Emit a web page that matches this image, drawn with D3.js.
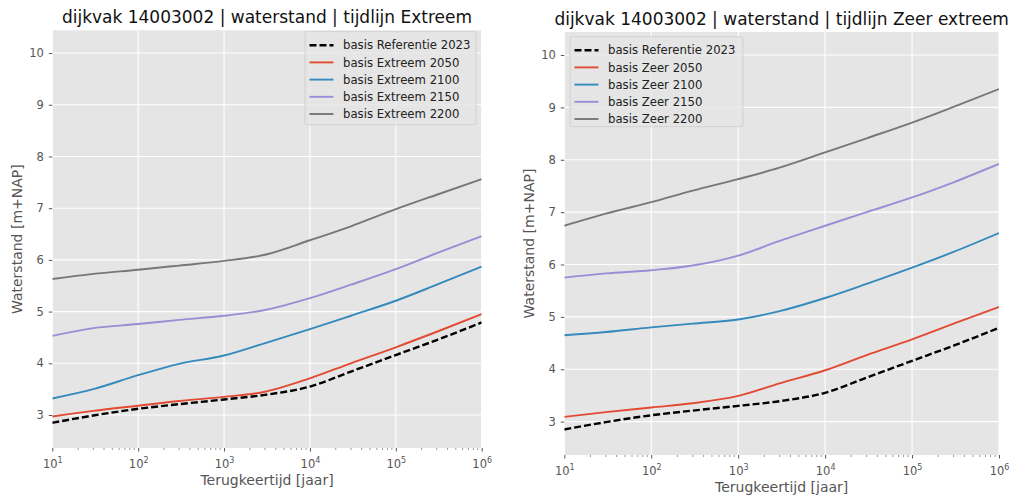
<!DOCTYPE html>
<html>
<head>
<meta charset="utf-8">
<script src="https://cdn.jsdelivr.net/npm/d3@7"></script>
<style>
  html, body { margin: 0; padding: 0; background: #ffffff; }
  svg { display: block; font-family: "DejaVu Sans", sans-serif; }
</style>
</head>
<body>
<svg id="chart" width="1014" height="499"></svg>
<script>
// Return periods (years) at which the water levels are given
const returnPeriods = [10, 30, 100, 300, 1000, 3000, 10000, 30000, 100000, 300000, 1000000];

// Reference situation 2023 (shared by both panels)
const referentie2023 = [2.85, 2.99, 3.12, 3.21, 3.30, 3.39, 3.55, 3.84, 4.16, 4.45, 4.79];

// Timeline "Extreem"
const extreem2050 = [2.97, 3.08, 3.18, 3.27, 3.35, 3.45, 3.71, 4.00, 4.31, 4.61, 4.95];
const extreem2100 = [3.32, 3.50, 3.77, 3.99, 4.15, 4.39, 4.66, 4.92, 5.21, 5.52, 5.87];
const extreem2150 = [4.53, 4.68, 4.76, 4.84, 4.92, 5.03, 5.26, 5.52, 5.82, 6.13, 6.46];
const extreem2200 = [5.63, 5.73, 5.81, 5.89, 5.98, 6.10, 6.38, 6.65, 6.98, 7.26, 7.56];

// Timeline "Zeer extreem"
const zeer2050 = [3.09, 3.18, 3.27, 3.35, 3.49, 3.73, 3.98, 4.27, 4.57, 4.87, 5.19];
const zeer2100 = [4.65, 4.71, 4.80, 4.87, 4.95, 5.11, 5.36, 5.63, 5.94, 6.24, 6.60];
const zeer2150 = [5.75, 5.83, 5.89, 5.98, 6.17, 6.45, 6.74, 7.00, 7.28, 7.57, 7.92];
const zeer2200 = [6.74, 6.97, 7.19, 7.41, 7.63, 7.85, 8.14, 8.41, 8.71, 9.01, 9.35];

const yTicks = [3, 4, 5, 6, 7, 8, 9, 10];
const xTickExponents = [1, 2, 3, 4, 5, 6];

const panels = [
  {
    title: "dijkvak 14003002 | waterstand | tijdlijn Extreem",
    box: { left: 52.3, right: 481.7, top: 30.3, bottom: 448 },
    legend: { x: 305, y: 31.7, w: 171, h: 93 },
    series: [
      { name: "basis Referentie 2023", values: referentie2023, color: "#000000", dashed: true },
      { name: "basis Extreem 2050", values: extreem2050, color: "#E24A33" },
      { name: "basis Extreem 2100", values: extreem2100, color: "#348ABD" },
      { name: "basis Extreem 2150", values: extreem2150, color: "#988ED5" },
      { name: "basis Extreem 2200", values: extreem2200, color: "#777777" }
    ]
  },
  {
    title: "dijkvak 14003002 | waterstand | tijdlijn Zeer extreem",
    box: { left: 564.3, right: 999, top: 32, bottom: 455 },
    legend: { x: 570, y: 36.7, w: 173, h: 90 },
    series: [
      { name: "basis Referentie 2023", values: referentie2023, color: "#000000", dashed: true },
      { name: "basis Zeer 2050", values: zeer2050, color: "#E24A33" },
      { name: "basis Zeer 2100", values: zeer2100, color: "#348ABD" },
      { name: "basis Zeer 2150", values: zeer2150, color: "#988ED5" },
      { name: "basis Zeer 2200", values: zeer2200, color: "#777777" }
    ]
  }
];

const svg = d3.select("#chart");
const yDomain = [2.362, 10.44];

panels.forEach(p => {
  const b = p.box;
  const x = d3.scaleLog().domain([10, 1e6]).range([b.left, b.right]);
  const y = d3.scaleLinear().domain(yDomain).range([b.bottom, b.top]);
  const g = svg.append("g");

  // plot background
  g.append("rect")
    .attr("x", b.left).attr("y", b.top)
    .attr("width", b.right - b.left).attr("height", b.bottom - b.top)
    .attr("fill", "#E5E5E5");

  // grid
  g.append("g").selectAll("line").data(yTicks).join("line")
    .attr("x1", b.left).attr("x2", b.right)
    .attr("y1", d => y(d)).attr("y2", d => y(d))
    .attr("stroke", "#ffffff").attr("stroke-width", 1.1);
  g.append("g").selectAll("line").data(xTickExponents).join("line")
    .attr("x1", d => x(Math.pow(10, d))).attr("x2", d => x(Math.pow(10, d)))
    .attr("y1", b.top).attr("y2", b.bottom)
    .attr("stroke", "#ffffff").attr("stroke-width", 1.1);

  // y axis
  const yAxis = d3.axisLeft(y).tickValues(yTicks).tickSize(3.5).tickPadding(5)
    .tickFormat(d3.format("d"));
  const ya = g.append("g").attr("transform", `translate(${b.left},0)`).call(yAxis);
  ya.select(".domain").remove();
  ya.selectAll(".tick line").attr("stroke", "#555555");
  ya.selectAll(".tick text").attr("fill", "#555555")
    .style("font-size", "11.5px").style("font-family", "DejaVu Sans");

  // x axis: major ticks with superscript labels
  const xAxis = d3.axisBottom(x)
    .tickValues(xTickExponents.map(e => Math.pow(10, e)))
    .tickSize(3.5).tickPadding(4).tickFormat("");
  const xa = g.append("g").attr("transform", `translate(0,${b.bottom})`).call(xAxis);
  xa.select(".domain").remove();
  xa.selectAll(".tick line").attr("stroke", "#555555");
  xa.selectAll(".tick").each(function(d) {
    const t = d3.select(this).append("text")
      .attr("y", 20).attr("fill", "#555555")
      .attr("text-anchor", "middle")
      .style("font-size", "11.5px").style("font-family", "DejaVu Sans");
    t.append("tspan").text("10");
    t.append("tspan").attr("dy", -5).style("font-size", "8px")
      .text(String(Math.round(Math.log10(d))));
  });

  // x axis: minor ticks
  const minor = [];
  for (let e = 1; e < 6; e++) for (let m = 2; m <= 9; m++) minor.push(m * Math.pow(10, e));
  g.append("g").selectAll("line").data(minor).join("line")
    .attr("x1", d => x(d)).attr("x2", d => x(d))
    .attr("y1", b.bottom).attr("y2", b.bottom + 2)
    .attr("stroke", "#555555").attr("stroke-width", 0.6);

  // axis titles
  const cx = (b.left + b.right) / 2;
  g.append("text").attr("x", cx).attr("y", b.bottom + 37)
    .attr("text-anchor", "middle").attr("fill", "#555555")
    .style("font-size", "14px").text("Terugkeertijd [jaar]");
  const cy = (b.top + b.bottom) / 2;
  g.append("text")
    .attr("transform", `translate(${b.left - 30},${cy}) rotate(-90)`)
    .attr("text-anchor", "middle").attr("fill", "#555555")
    .style("font-size", "14px").text("Waterstand [m+NAP]");

  // title
  g.append("text").attr("x", cx).attr("y", b.top - 7)
    .attr("text-anchor", "middle").attr("fill", "#111111")
    .style("font-size", "17px").text(p.title);

  // lines
  const line = d3.line()
    .x((d, i) => x(returnPeriods[i]))
    .y(d => y(d))
    .curve(d3.curveMonotoneX);
  const clipId = "clip" + Math.round(b.left);
  svg.append("clipPath").attr("id", clipId).append("rect")
    .attr("x", b.left).attr("y", b.top)
    .attr("width", b.right - b.left).attr("height", b.bottom - b.top);
  const lg = g.append("g").attr("clip-path", `url(#${clipId})`);
  p.series.forEach(s => {
    lg.append("path").datum(s.values)
      .attr("d", line)
      .attr("fill", "none")
      .attr("stroke", s.color)
      .attr("stroke-width", s.dashed ? 2.4 : 1.9)
      .attr("stroke-dasharray", s.dashed ? "7,3" : null);
  });

  // legend
  const L = p.legend;
  const leg = g.append("g");
  leg.append("rect")
    .attr("x", L.x).attr("y", L.y).attr("width", L.w).attr("height", L.h)
    .attr("rx", 2).attr("ry", 2)
    .attr("fill", "#E5E5E5").attr("fill-opacity", 0.8)
    .attr("stroke", "#cccccc").attr("stroke-width", 0.8);
  p.series.forEach((s, i) => {
    const ry = L.y + 13.5 + i * 17.2;
    leg.append("line")
      .attr("x1", L.x + 4.5).attr("x2", L.x + 28.5)
      .attr("y1", ry).attr("y2", ry)
      .attr("stroke", s.color)
      .attr("stroke-width", s.dashed ? 2.4 : 1.9)
      .attr("stroke-dasharray", s.dashed ? "7,3" : null);
    leg.append("text")
      .attr("x", L.x + 38).attr("y", ry + 4.2)
      .attr("fill", "#222222")
      .style("font-size", "11.7px").text(s.name);
  });
});
</script>
</body>
</html>
